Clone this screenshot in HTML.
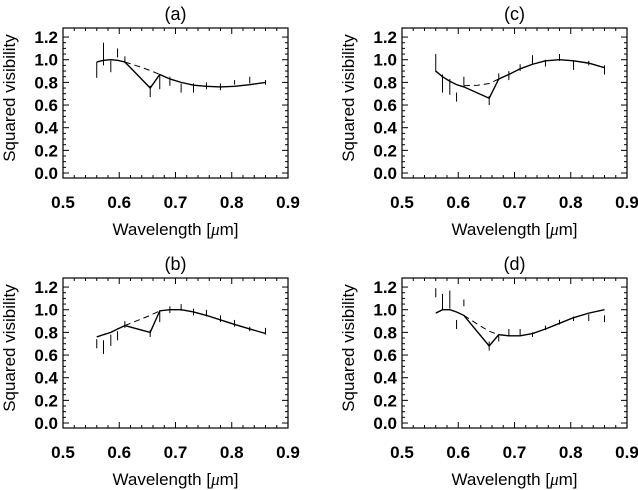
<!DOCTYPE html>
<html><head><meta charset="utf-8"><style>
html,body{margin:0;padding:0;background:#fff;}
svg{display:block;font-family:"Liberation Sans",sans-serif;}
</style></head><body>
<svg id="fig" width="638" height="490" viewBox="0 0 638 490" xmlns="http://www.w3.org/2000/svg"></svg>
<script>
const wavelengths=[0.56,0.572,0.585,0.597,0.61,0.655,0.672,0.69,0.71,0.732,0.755,0.78,0.805,0.832,0.86];
const contWl=[0.61,0.635,0.655,0.672];
const panelLabels=["(a)","(b)","(c)","(d)"];
const modelA=[0.98,0.995,1.0,0.995,0.98,0.75,0.87,0.83,0.80,0.775,0.765,0.76,0.765,0.78,0.80];
const contA=[0.98,0.94,0.905,0.87];
const dataA=[0.91,1.05,0.94,1.06,1.0,0.72,0.80,0.81,0.75,0.75,0.77,0.76,0.80,0.82,0.80];
const errA=[0.07,0.1,0.05,0.04,0.03,0.05,0.06,0.04,0.04,0.04,0.03,0.03,0.02,0.03,0.02];
const modelB=[0.76,0.78,0.80,0.83,0.86,0.80,0.99,1.0,1.0,0.98,0.95,0.91,0.87,0.83,0.79];
const contB=[0.86,0.91,0.95,0.99];
const dataB=[0.70,0.67,0.73,0.77,0.87,0.79,0.94,1.0,1.02,0.98,0.97,0.92,0.88,0.83,0.81];
const errB=[0.04,0.06,0.05,0.04,0.03,0.03,0.05,0.03,0.03,0.03,0.03,0.03,0.03,0.02,0.03];
const modelC=[0.90,0.85,0.81,0.78,0.76,0.66,0.83,0.87,0.92,0.96,0.99,1.0,0.99,0.97,0.93];
const contC=[0.77,0.775,0.79,0.83];
const dataC=[0.97,0.79,0.76,0.67,0.81,0.64,0.85,0.86,0.93,1.0,0.97,1.02,0.95,0.97,0.91];
const errC=[0.08,0.08,0.07,0.04,0.04,0.04,0.03,0.04,0.03,0.04,0.03,0.03,0.04,0.02,0.04];
const modelD=[0.97,1.0,1.0,0.98,0.95,0.68,0.78,0.77,0.77,0.79,0.83,0.88,0.93,0.97,1.0];
const contD=[0.95,0.87,0.81,0.78];
const dataD=[1.15,1.07,1.09,0.87,1.06,0.68,0.75,0.80,0.80,0.78,0.84,0.89,0.92,0.93,0.92];
const errD=[0.04,0.07,0.08,0.04,0.03,0.04,0.03,0.03,0.03,0.02,0.02,0.02,0.02,0.03,0.03];
const xTicks=[0.5,0.6,0.7,0.8,0.9];
const yTicks=[0.0,0.2,0.4,0.6,0.8,1.0,1.2];

const NS="http://www.w3.org/2000/svg";
const svg=document.getElementById('fig');
function mk(tag,attrs,parent){const e=document.createElementNS(NS,tag);for(const k in attrs)e.setAttribute(k,attrs[k]);parent.appendChild(e);return e;}
const panels=[
 {ox:0,oy:0,model:modelA,cont:contA,data:dataA,err:errA,name:'a'},
 {ox:0,oy:250,model:modelB,cont:contB,data:dataB,err:errB,name:'b'},
 {ox:339,oy:0,model:modelC,cont:contC,data:dataC,err:errC,name:'c'},
 {ox:339,oy:250,model:modelD,cont:contD,data:dataD,err:errD,name:'d'}];
const yMin=-0.044,yMax=1.28;
panels.forEach((p,pi)=>{
 const L=63+p.ox,R=288+p.ox,T=28+p.oy,B=178+p.oy;
 const xs=v=>L+(v-0.5)/0.4*(R-L);
 const ys=v=>B-(v-yMin)/(yMax-yMin)*(B-T);
 const g=mk('g',{},svg);
 
 
 const t=mk('text',{x:(L+R)/2,y:p.oy+20,'text-anchor':'middle','font-size':'18'},g);
 t.textContent=panelLabels[pi];
 
 
 const box=mk('rect',{x:L,y:T,width:R-L,height:B-T,fill:'none',stroke:'#000','stroke-width':1.2},g);
 
 
 for(let v=0.5;v<=0.9001;v+=0.02){const x=xs(v);const maj=Math.abs(v*10-Math.round(v*10))<1e-6;const len=maj?6:3;
  mk('line',{x1:x,x2:x,y1:B,y2:B-len,stroke:'#000','stroke-width':1},g);
  mk('line',{x1:x,x2:x,y1:T,y2:T+len,stroke:'#000','stroke-width':1},g);}
 for(let v=0;v<=1.2001;v+=0.05){const y=ys(v);const maj=Math.abs(v*5-Math.round(v*5))<1e-6;const len=maj?6:3;
  mk('line',{x1:L,x2:L+len,y1:y,y2:y,stroke:'#000','stroke-width':1},g);
  mk('line',{x1:R,x2:R-len,y1:y,y2:y,stroke:'#000','stroke-width':1},g);}
 xTicks.forEach(v=>{const e=mk('text',{x:xs(v),y:B+30,'text-anchor':'middle','font-size':'17','font-weight':'bold'},g);e.textContent=v.toFixed(1);
  
  });
 yTicks.forEach(v=>{const e=mk('text',{x:L-5,y:ys(v)+6,'text-anchor':'end','font-size':'17','font-weight':'bold'},g);e.textContent=v.toFixed(1);
  
  });
 const xl=mk('text',{x:(L+R)/2,y:B+57,'text-anchor':'middle','font-size':'17'},g);
 xl.innerHTML='Wavelength [<tspan font-family="Liberation Serif" font-style="italic">μ</tspan>m]';
 
 
 const yl=mk('text',{x:0,y:0,'text-anchor':'middle','font-size':'17',transform:`translate(${p.ox+15},${(T+B)/2-5}) rotate(-90)`},g);
 yl.textContent='Squared visibility';
 
 
 const dash=mk('polyline',{points:contWl.map((w,i)=>xs(w)+','+ys(p.cont[i])).join(' '),fill:'none',stroke:'#000','stroke-width':1,'stroke-dasharray':'6,4'},g);
 
 
 const sol=mk('polyline',{points:wavelengths.map((w,i)=>xs(w)+','+ys(p.model[i])).join(' '),fill:'none',stroke:'#000','stroke-width':1.4},g);
 
 
 wavelengths.forEach((w,i)=>{const x=xs(w);
  const e=mk('line',{x1:x,x2:x,y1:ys(p.data[i]-p.err[i]),y2:ys(p.data[i]+p.err[i]),stroke:'#000','stroke-width':1},g);
  
  });
});
</script>
</body></html>
